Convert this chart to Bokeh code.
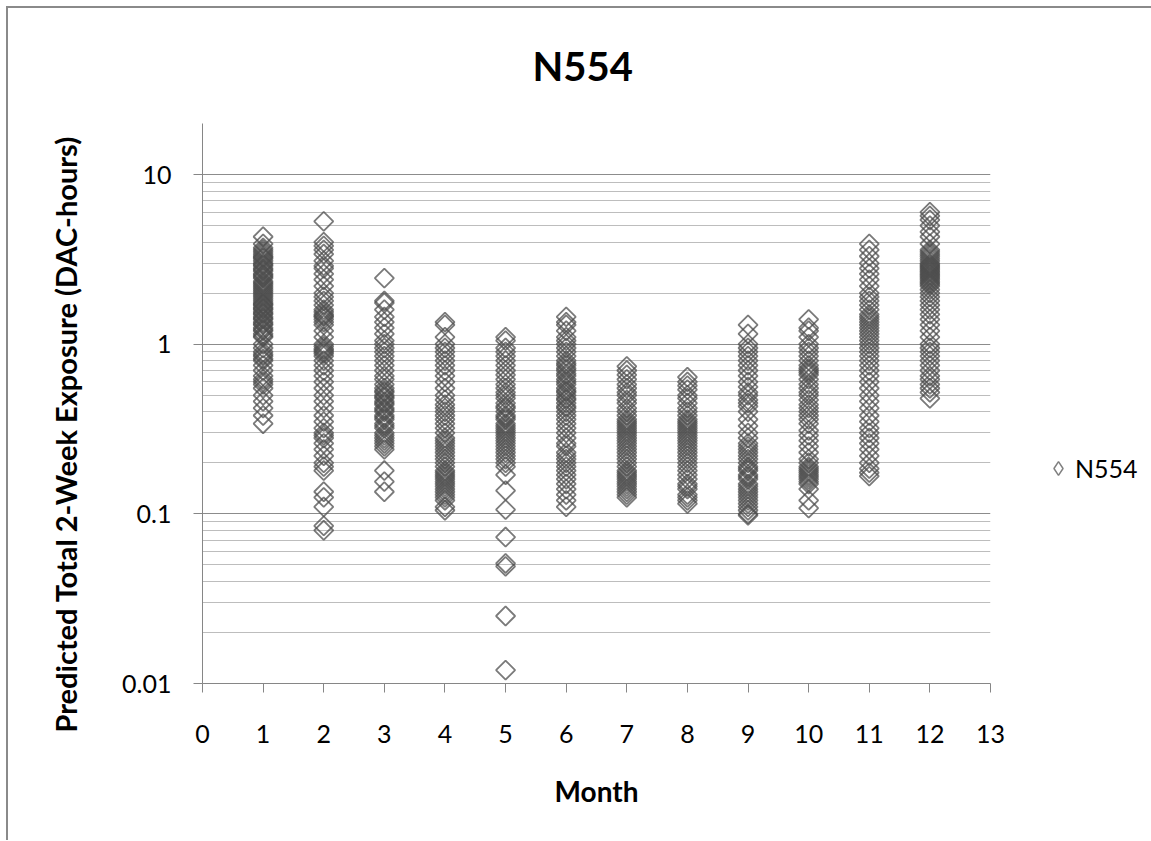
import numpy as np
from bokeh.plotting import figure
from bokeh.models import Range1d, FixedTicker, Legend, LegendItem, CustomJSTickFormatter, ColumnDataSource, Title
from bokeh.embed import file_html
from bokeh.resources import INLINE

title_text = "N554"
x_label = "Month"
y_label = "Predicted Total 2-Week Exposure (DAC-hours)"
series_name = "N554"
x_ticks = list(range(0, 14))
y_ticks = [0.01, 0.1, 1, 10]
y_minor = [0.02, 0.03, 0.04, 0.05, 0.06, 0.07, 0.08, 0.09,
           0.2, 0.3, 0.4, 0.5, 0.6, 0.7, 0.8, 0.9,
           2, 3, 4, 5, 6, 7, 8, 9, 20]

month1 = [4.3, 3.9, 3.7, 3.6, 3.5, 3.4, 3.3, 3.25, 3.2, 3.1, 3.0, 2.95, 2.9, 2.8, 2.75, 2.7, 2.6, 2.55, 2.5,
          2.45, 2.35, 2.3, 2.25, 2.2, 2.15, 2.1, 2.05, 2.0, 1.95, 1.9, 1.85, 1.8, 1.75, 1.72, 1.7, 1.65,
          1.62, 1.6, 1.55, 1.52, 1.5, 1.45, 1.42, 1.4, 1.35, 1.32, 1.3, 1.25, 1.22, 1.2, 1.15, 1.12, 1.1,
          1.0, 0.95, 0.9, 0.87, 0.85, 0.82, 0.8, 0.75, 0.7, 0.65, 0.62, 0.6, 0.58, 0.55, 0.5, 0.46,
          0.42, 0.38, 0.34]
month2 = [5.3, 4.0, 3.8, 3.6, 3.4, 3.1, 2.9, 2.8, 2.6, 2.4, 2.2, 2.0, 1.9, 1.8, 1.7, 1.6, 1.55, 1.5, 1.47,
          1.45, 1.4, 1.35, 1.3, 1.2, 1.1, 1.0, 0.97, 0.94, 0.92, 0.9, 0.88, 0.85, 0.8, 0.75, 0.7, 0.65,
          0.6, 0.55, 0.5, 0.46, 0.42, 0.38, 0.35, 0.32, 0.3, 0.29, 0.28, 0.26, 0.24, 0.22, 0.2, 0.19, 0.18,
          0.135, 0.125, 0.11, 0.085, 0.08]
month3 = [2.45, 1.8, 1.75, 1.6, 1.45, 1.35, 1.25, 1.15, 1.05, 1.0, 0.95, 0.9, 0.85, 0.8, 0.75, 0.7, 0.65,
          0.62, 0.58, 0.55, 0.53, 0.52, 0.5, 0.49, 0.48, 0.46, 0.45, 0.44, 0.42, 0.41, 0.4, 0.38, 0.37,
          0.36, 0.34, 0.33, 0.32, 0.3, 0.29, 0.28, 0.27, 0.26, 0.25, 0.24, 0.18, 0.155, 0.135]
month4 = [1.35, 1.3, 1.1, 1.0, 0.95, 0.9, 0.85, 0.8, 0.75, 0.7, 0.65, 0.6, 0.55, 0.5, 0.47, 0.44, 0.42, 0.4,
          0.38, 0.36, 0.34, 0.32, 0.3, 0.28, 0.27, 0.26, 0.25, 0.24, 0.23, 0.22, 0.21, 0.2, 0.19, 0.18,
          0.175, 0.17, 0.165, 0.16, 0.155, 0.15, 0.145, 0.14, 0.135, 0.13, 0.125, 0.12, 0.11, 0.105]
month5 = [1.1, 1.05, 0.95, 0.9, 0.85, 0.8, 0.75, 0.7, 0.66, 0.62, 0.58, 0.55, 0.52, 0.5, 0.48, 0.45, 0.43,
          0.42, 0.4, 0.38, 0.37, 0.36, 0.34, 0.33, 0.32, 0.31, 0.3, 0.29, 0.28, 0.27, 0.26, 0.25, 0.24,
          0.23, 0.22, 0.21, 0.2, 0.19, 0.17, 0.137, 0.106, 0.073, 0.051, 0.049, 0.025, 0.012]
month6 = [1.45, 1.35, 1.3, 1.2, 1.1, 1.05, 1.0, 0.95, 0.9, 0.85, 0.8, 0.77, 0.75, 0.72, 0.7, 0.67, 0.65,
          0.62, 0.6, 0.58, 0.55, 0.53, 0.52, 0.5, 0.48, 0.47, 0.45, 0.43, 0.42, 0.4, 0.38, 0.36, 0.34, 0.32,
          0.3, 0.28, 0.26, 0.25, 0.23, 0.22, 0.21, 0.2, 0.19, 0.18, 0.17, 0.16, 0.15, 0.14, 0.13, 0.12, 0.11]
month7 = [0.74, 0.7, 0.66, 0.62, 0.58, 0.55, 0.52, 0.5, 0.47, 0.45, 0.42, 0.4, 0.38, 0.36, 0.35, 0.34, 0.33,
          0.32, 0.31, 0.3, 0.29, 0.28, 0.27, 0.26, 0.25, 0.24, 0.23, 0.22, 0.21, 0.2, 0.19, 0.18, 0.175,
          0.17, 0.165, 0.16, 0.155, 0.15, 0.145, 0.14, 0.135, 0.13, 0.125]
month8 = [0.64, 0.6, 0.57, 0.54, 0.5, 0.48, 0.45, 0.42, 0.4, 0.38, 0.36, 0.35, 0.34, 0.33, 0.32, 0.31, 0.3,
          0.29, 0.28, 0.27, 0.26, 0.25, 0.24, 0.23, 0.22, 0.21, 0.2, 0.19, 0.18, 0.17, 0.16, 0.15, 0.145,
          0.14, 0.13, 0.125, 0.12, 0.115]
month9 = [1.3, 1.15, 1.0, 0.95, 0.9, 0.85, 0.8, 0.75, 0.7, 0.65, 0.6, 0.56, 0.52, 0.5, 0.47, 0.45, 0.43,
          0.4, 0.36, 0.33, 0.3, 0.28, 0.26, 0.25, 0.24, 0.23, 0.22, 0.21, 0.2, 0.19, 0.185, 0.18, 0.17,
          0.165, 0.16, 0.15, 0.145, 0.14, 0.135, 0.13, 0.125, 0.12, 0.115, 0.11, 0.105, 0.1, 0.098]
month10 = [1.4, 1.25, 1.2, 1.1, 1.0, 0.95, 0.9, 0.85, 0.8, 0.75, 0.72, 0.7, 0.68, 0.66, 0.62, 0.58, 0.55,
           0.52, 0.5, 0.47, 0.44, 0.42, 0.4, 0.38, 0.36, 0.34, 0.31, 0.29, 0.27, 0.25, 0.23, 0.21, 0.2,
           0.19, 0.185, 0.18, 0.175, 0.17, 0.165, 0.16, 0.155, 0.15, 0.14, 0.12, 0.108]
month11 = [3.9, 3.6, 3.3, 3.0, 2.8, 2.6, 2.4, 2.2, 2.0, 1.9, 1.8, 1.7, 1.6, 1.5, 1.45, 1.4, 1.35, 1.3, 1.25,
           1.2, 1.15, 1.1, 1.05, 1.0, 0.95, 0.9, 0.85, 0.8, 0.75, 0.7, 0.65, 0.6, 0.55, 0.5, 0.46, 0.42,
           0.38, 0.35, 0.32, 0.3, 0.28, 0.26, 0.24, 0.22, 0.2, 0.185, 0.175, 0.167]
month12 = [6.0, 5.7, 5.4, 5.0, 4.6, 4.3, 3.9, 3.6, 3.5, 3.4, 3.3, 3.2, 3.1, 3.0, 2.95, 2.9, 2.85, 2.8, 2.75,
           2.7, 2.65, 2.6, 2.55, 2.5, 2.45, 2.4, 2.35, 2.3, 2.25, 2.2, 2.1, 2.0, 1.9, 1.8, 1.7, 1.6, 1.5,
           1.4, 1.3, 1.2, 1.1, 1.0, 0.95, 0.9, 0.85, 0.8, 0.75, 0.7, 0.65, 0.62, 0.58, 0.55, 0.52, 0.48]

months = [1, 2, 3, 4, 5, 6, 7, 8, 9, 10, 11, 12]
values = [month1, month2, month3, month4, month5, month6, month7, month8, month9, month10, month11, month12]

xs, ys = [], []
for m, vals in zip(months, values):
    xs.extend([m] * len(vals))
    ys.extend(vals)
src = ColumnDataSource(dict(x=xs, y=ys))

FONT = "Lato"
AX = "#868686"

p = figure(frame_width=788, frame_height=560,
           min_border_left=194, min_border_right=158, min_border_top=115, min_border_bottom=157,
           x_range=Range1d(0, 13), y_range=Range1d(0.01, 20), y_axis_type="log",
           output_backend="svg", toolbar_location=None)
p.styles = {"border-left": "2px solid #8a8a8a", "border-top": "2px solid #8a8a8a",
            "margin-left": "6px", "margin-top": "6px"}
p.outline_line_color = None
p.background_fill_color = "white"
p.border_fill_color = "white"

p.title.text = title_text
p.title.text_font = FONT
p.title.text_font_size = "40px"
p.title.text_font_style = "bold"
p.title.text_color = "black"
p.title.align = "left"
p.title.offset = 330
p.title.vertical_align = "top"
p.title.standoff = 64

p.xgrid.visible = False
p.ygrid.grid_line_color = "#8c8c8c"
p.ygrid.grid_line_width = 1
p.ygrid.minor_grid_line_color = "#bdbdbd"
p.ygrid.minor_grid_line_width = 1

p.xaxis.ticker = FixedTicker(ticks=x_ticks, minor_ticks=[])
p.yaxis.ticker = FixedTicker(ticks=y_ticks, minor_ticks=y_minor)
p.yaxis.formatter = CustomJSTickFormatter(code="return String(Number(tick.toPrecision(6)));")

for ax in (p.xaxis[0], p.yaxis[0]):
    ax.axis_line_color = AX
    ax.major_tick_line_color = AX
    ax.major_tick_in = 0
    ax.major_tick_out = 9
    ax.minor_tick_in = 0
    ax.minor_tick_out = 0
    ax.minor_tick_line_color = None
    ax.major_label_text_font = FONT
    ax.major_label_text_font_size = "25px"
    ax.major_label_text_color = "black"
    ax.axis_label_text_font = FONT
    ax.axis_label_text_font_size = "28px"
    ax.axis_label_text_font_style = "bold"
    ax.axis_label_text_color = "black"

p.xaxis.axis_label = x_label
p.xaxis.major_label_standoff = 32
p.xaxis.axis_label_standoff = 28
p.yaxis.major_label_standoff = 22

ytitle = Title(text=y_label, align="left", offset=-49, vertical_align="middle", standoff=72,
               text_font=FONT, text_font_size="29px", text_font_style="bold", text_color="black")
p.add_layout(ytitle, "left")

MARK = "#4d4d4d"
r = p.scatter("x", "y", source=src, marker="square", angle=np.pi / 4, size=13.5,
              fill_color=None, line_color=MARK, line_width=1.8, line_alpha=0.75)

# legend-only renderer (a single non-drawn NaN point) to show a diamond symbol
leg_src = ColumnDataSource(dict(x=[float("nan")], y=[float("nan")]))
r_leg = p.scatter("x", "y", source=leg_src, marker="diamond", size=14,
                  fill_color=None, line_color="#808080", line_width=1.5)

legend = Legend(items=[LegendItem(label=series_name, renderers=[r_leg], index=0)], location=(51, 198),
                border_line_color=None, background_fill_color=None, padding=0, margin=0,
                glyph_width=34, glyph_height=34, label_standoff=0,
                label_text_font=FONT, label_text_font_size="25px", label_text_color="black")
p.add_layout(legend, "right")

open("out.html", "w").write(file_html(p, INLINE))
